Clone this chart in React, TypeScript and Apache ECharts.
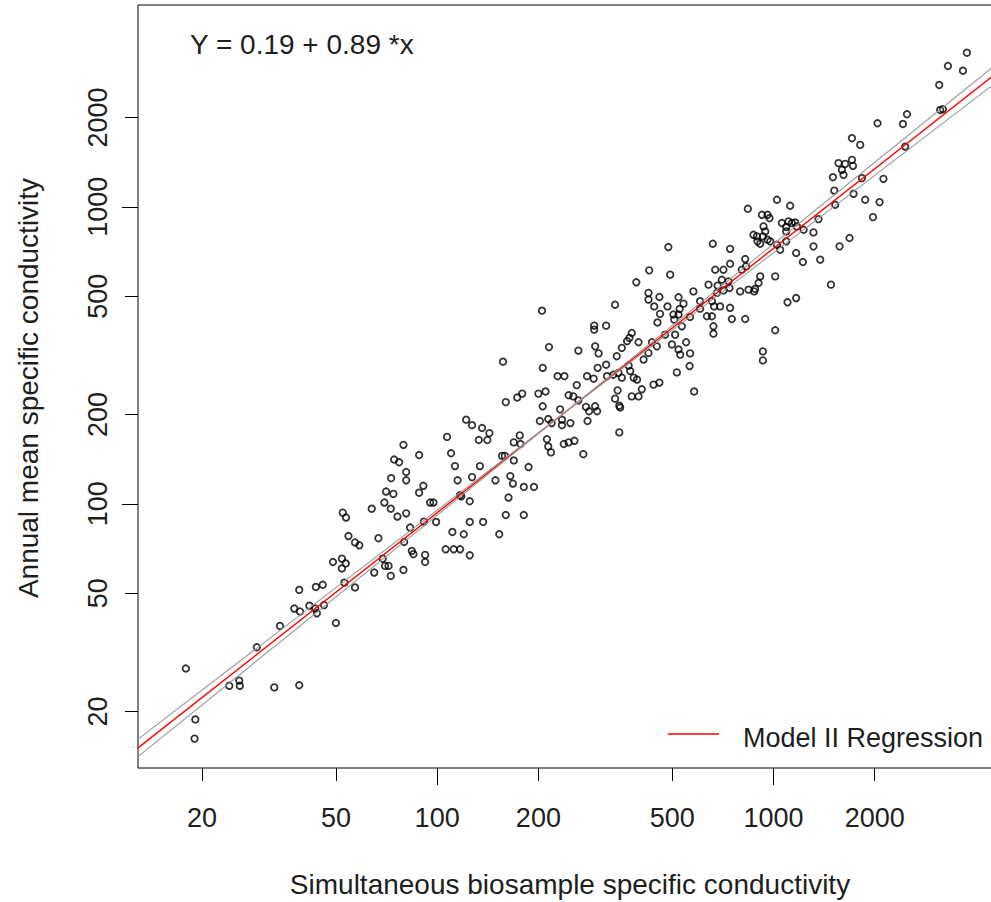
import React, { useEffect, useRef } from "react";
import * as echarts from "echarts";

// Simultaneous biosample specific conductivity (x) and annual mean specific conductivity (y), paired by index
const biosampleSC = [
  37.6, 39.1, 41.7, 43.4, 43.9, 46.1, 50.0, 34.1, 29.1, 17.9, 24.1, 25.8, 25.9, 32.8, 38.9, 19.1, 19.0,
  74.5, 77.1, 73.0, 70.5, 74.1, 63.9, 69.7, 72.8, 76.2, 52.4, 53.6, 54.5, 57.0, 58.7, 66.9, 49.0, 52.1, 53.5, 52.1, 68.9, 70.0, 71.7, 65.0, 72.8, 57.0, 38.9, 43.6, 45.7, 53.0,
  122, 127, 136, 143, 133, 141, 107, 79.4, 88.4, 110, 113, 134, 80.9, 80.9, 115, 127, 149, 165, 168, 181,
  194, 91.0, 88.4, 95.3, 97.5, 117, 118, 125, 163, 80.9, 83.1, 91.3, 99.3, 125, 137, 160, 181, 111, 120, 153,
  79.8, 84.1, 85.0, 92.1, 106, 112, 117, 125, 92.1, 79.4,
  205, 293, 293, 215, 263, 295, 302, 157, 206, 300, 228, 239, 279, 292, 260, 200, 210, 173, 179, 160,
  246, 254, 263, 277, 206, 232, 295, 299, 280, 202, 214, 219, 235, 235, 249, 176, 169, 177, 212, 214,
  218, 238, 246, 256, 348, 272, 187, 156, 159, 169, 283,
  487, 427, 493, 391, 578, 425, 425, 458, 442, 522, 540, 526, 338, 484, 460, 504, 522, 507, 565, 452,
  534, 318, 476, 510, 379, 373, 397, 450, 435, 499, 522, 528, 550, 565, 367, 354, 342, 425, 411, 563,
  516, 318, 320, 334, 346, 354, 371, 375, 384, 393, 440, 458, 344, 338, 348, 350, 379, 397, 406, 581,
  1024, 1121, 839, 924, 960, 973, 1059, 1108, 1134, 1160, 1174, 1091, 1091, 934, 945, 872, 893, 930, 896, 913,
  960, 978, 1024, 1047, 1091, 660, 743, 1168, 824, 829, 743, 710, 671, 805, 913, 1012, 641, 682, 702, 735,
  903, 882, 740, 710, 679, 796, 843, 876, 656, 666, 694, 605, 743, 634, 656, 752, 824, 663, 663, 1012,
  1101, 1168, 930, 930, 605,
  2039, 1711, 1811, 1561, 1634, 1711, 1723, 1598, 1615, 1502, 1832, 1516, 1526, 1730, 1874, 2067, 1976, 1229, 1315, 1361,
  1315, 1572, 1683, 1223, 1377, 1482,
  3759, 3301, 3659, 3110, 3131, 3190, 2494, 2426, 2464, 2123,
];

const annualMeanSC = [
  44.4, 43.4, 45.4, 44.4, 42.8, 45.6, 39.7, 38.8, 32.9, 27.9, 24.4, 25.4, 24.4, 24.1, 24.5, 18.8, 16.2,
  141, 138, 122, 110, 108, 96.3, 101, 96.3, 90.6, 93.4, 89.9, 77.9, 74.1, 72.5, 76.6, 63.7, 65.4, 63.0, 60.6, 65.4, 61.8, 61.8, 58.7, 57.2, 52.3, 51.3, 52.5, 53.4, 54.3,
  192, 184, 180, 173, 164, 164, 168, 158, 146, 148, 134, 134, 128, 120, 120, 123, 120, 124, 117, 114,
  114, 115, 109, 101, 101, 107, 106, 102, 105, 92.9, 83.2, 87.1, 86.9, 86.9, 86.9, 91.7, 91.7, 80.4, 79.0, 79.0,
  74.4, 69.4, 67.7, 67.3, 70.3, 70.3, 70.3, 67.1, 63.7, 59.9,
  447, 398, 386, 337, 328, 339, 321, 301, 287, 287, 269, 269, 269, 264, 251, 235, 239, 228, 235, 220,
  232, 230, 223, 212, 213, 208, 213, 205, 190, 190, 193, 187, 192, 184, 187, 170, 161, 159, 165, 156,
  149, 159, 161, 163, 174, 147, 133, 145, 145, 140, 205,
  732, 611, 591, 557, 519, 513, 487, 497, 462, 496, 472, 453, 468, 462, 436, 434, 434, 417, 426, 408,
  396, 398, 371, 371, 376, 362, 350, 339, 350, 344, 331, 318, 350, 321, 353, 335, 314, 322, 306, 291,
  277, 294, 269, 272, 276, 266, 292, 280, 266, 262, 252, 256, 241, 226, 214, 211, 230, 230, 243, 239,
  1056, 1008, 985, 940, 940, 916, 882, 893, 882, 886, 859, 855, 826, 859, 826, 805, 795, 795, 765, 751,
  775, 765, 745, 717, 765, 751, 722, 699, 667, 630, 643, 614, 614, 614, 583, 583, 547, 543, 568, 561,
  554, 529, 533, 523, 513, 519, 526, 519, 481, 462, 462, 481, 457, 428, 428, 419, 419, 396, 374, 384,
  477, 493, 326, 304, 454,
  1911, 1702, 1616, 1403, 1395, 1439, 1374, 1332, 1281, 1258, 1249, 1134, 1016, 1106, 1056, 1037, 923, 837, 820, 909,
  736, 736, 785, 652, 664, 547,
  3302, 2979, 2872, 2572, 2119, 2130, 2049, 1901, 1595, 1242,
];

const majorTickValues = [100, 1000];
const minorTickValues = [20, 50, 200, 500, 2000];
const axisMin = 12.9;
const axisMax = 4780;

const regIntercept = 0.19;
const regSlope = 0.89;
const ciIntercepts = [0.2456, 0.1344];
const ciSlopes = [0.8665, 0.9135];

const equationLabel = "Y = 0.19 + 0.89 *x";
const xTitle = "Simultaneous biosample specific conductivity";
const yTitle = "Annual mean specific conductivity";
const legendLabel = "Model II Regression";

const FONT = '"Liberation Sans", Arial, sans-serif';
const TEXT_COLOR = "#1e1e1e";

function lineEnds(a: number, b: number) {
  return [axisMin, axisMax].map((x) => [x, Math.pow(10, a + b * Math.log10(x))]);
}

function makeAxis(kind: "x" | "y", vals: number[], len: number) {
  const isX = kind === "x";
  return {
    type: "log",
    logBase: 10,
    min: axisMin,
    max: axisMax,
    position: isX ? "bottom" : "left",
    gridIndex: 0,
    axisLine: { show: false },
    splitLine: { show: false },
    minorTick: { show: false },
    axisTick: {
      show: true,
      length: len,
      customValues: vals,
      lineStyle: { color: "#000", width: 1 },
    },
    axisLabel: {
      show: true,
      customValues: vals,
      margin: isX ? 36 : 27,
      rotate: isX ? 0 : 90,
      fontSize: 27,
      fontFamily: FONT,
      color: TEXT_COLOR,
      formatter: (v: number) => String(v),
    },
  };
}

export default function App() {
  const ref = useRef<HTMLDivElement>(null);

  useEffect(() => {
    if (!ref.current) return;
    const chart = echarts.init(ref.current, undefined, { renderer: "svg" });
    const points = biosampleSC.map((x, i) => [x, annualMeanSC[i]]);
    chart.setOption({
      animation: false,
      backgroundColor: "#fff",
      grid: {
        left: 138,
        top: 5,
        width: 864,
        height: 763,
        show: true,
        borderColor: "#000",
        borderWidth: 1,
        backgroundColor: "transparent",
        containLabel: false,
        outerBoundsMode: "none",
      },
      xAxis: [makeAxis("x", majorTickValues, 17), makeAxis("x", minorTickValues, 13)],
      yAxis: [makeAxis("y", majorTickValues, 16), makeAxis("y", minorTickValues, 13)],
      series: [
        {
          type: "scatter",
          xAxisIndex: 0,
          yAxisIndex: 0,
          data: points,
          symbol: "circle",
          symbolSize: 6.5,
          itemStyle: { color: "rgba(0,0,0,0)", borderColor: "#000", borderWidth: 1.8 },
          z: 2,
          silent: true,
        },
        {
          type: "line",
          xAxisIndex: 0,
          yAxisIndex: 0,
          data: lineEnds(regIntercept, regSlope),
          symbol: "none",
          lineStyle: { color: "#ff0000", width: 1.4 },
          z: 3,
          silent: true,
        },
        ...ciIntercepts.map((a, i) => ({
          type: "line",
          xAxisIndex: 0,
          yAxisIndex: 0,
          data: lineEnds(a, ciSlopes[i]),
          symbol: "none",
          lineStyle: { color: "#9a9a9a", width: 1.1 },
          z: 4,
          silent: true,
        })),
      ],
      graphic: [
        {
          type: "text",
          x: 190,
          y: 44,
          style: {
            text: equationLabel,
            fontSize: 28,
            fontFamily: FONT,
            fill: TEXT_COLOR,
            align: "left",
            verticalAlign: "middle",
          },
        },
        {
          type: "line",
          shape: { x1: 668, y1: 734, x2: 719, y2: 734 },
          style: { stroke: "#ff0000", lineWidth: 1.4 },
        },
        {
          type: "text",
          x: 743,
          y: 737.5,
          style: {
            text: legendLabel,
            fontSize: 27,
            fontFamily: FONT,
            fill: TEXT_COLOR,
            align: "left",
            verticalAlign: "middle",
          },
        },
        {
          type: "text",
          x: 570,
          y: 884,
          style: {
            text: xTitle,
            fontSize: 28,
            fontFamily: FONT,
            fill: TEXT_COLOR,
            align: "center",
            verticalAlign: "middle",
          },
        },
        {
          type: "text",
          x: 28,
          y: 388,
          rotation: Math.PI / 2,
          style: {
            text: yTitle,
            fontSize: 28,
            fontFamily: FONT,
            fill: TEXT_COLOR,
            align: "center",
            verticalAlign: "middle",
          },
        },
      ],
    });
    return () => chart.dispose();
  }, []);

  return (
    <div
      style={{
        position: "absolute",
        left: 0,
        top: 0,
        width: 991,
        height: 902,
        overflow: "hidden",
        background: "#fff",
      }}
    >
      <div ref={ref} style={{ width: 1012, height: 902 }} />
    </div>
  );
}
